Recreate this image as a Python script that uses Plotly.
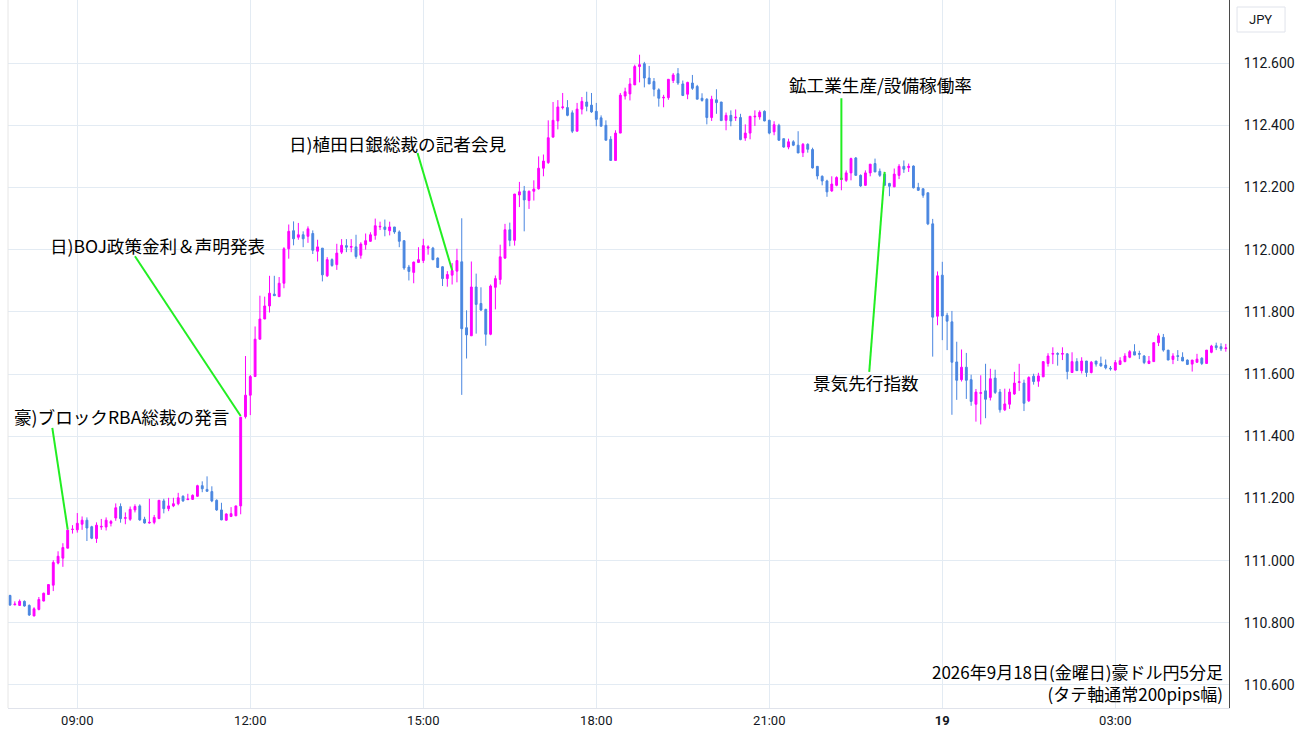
import pandas as pd
import plotly.graph_objects as go

# ---------------- data (AUD/JPY 5-minute candles, 2026-09-18 07:50 -> 09-19 05:00) ----------------
start_time = "2026-09-18 07:50"

opens = [
 110.888,110.858,110.856,110.869,110.856,110.822,110.843,110.870,110.891,110.921,
 110.992,111.008,111.040,111.100,111.099,111.117,111.130,111.109,111.071,111.108,
 111.108,111.120,111.137,111.174,111.136,111.133,111.163,111.176,111.133,111.121,
 111.123,111.135,111.192,111.167,111.176,111.183,111.207,111.196,111.197,111.207,
 111.241,111.229,111.222,111.194,111.163,111.130,111.142,111.144,111.176,111.463,
 111.532,111.592,111.712,111.777,111.819,111.857,111.849,111.892,112.003,112.061,
 112.040,112.048,112.043,112.052,111.995,112.005,111.916,111.968,111.952,111.992,
 112.013,112.008,112.009,111.982,112.016,112.027,112.046,112.073,112.073,112.061,
 112.073,112.057,112.029,111.944,111.927,111.959,111.965,112.005,112.005,111.973,
 111.945,111.907,111.918,111.931,111.961,111.749,111.723,111.880,111.827,111.808,
 111.728,111.879,111.904,111.973,112.064,112.030,112.176,112.189,112.158,112.188,
 112.196,112.262,112.280,112.362,112.414,112.457,112.457,112.440,112.381,112.452,
 112.475,112.465,112.445,112.424,112.400,112.355,112.287,112.375,112.494,112.501,
 112.530,112.589,112.598,112.552,112.541,112.514,112.488,112.489,112.544,112.566,
 112.533,112.500,112.536,112.525,112.487,112.484,112.425,112.482,112.475,112.416,
 112.432,112.424,112.425,112.359,112.375,112.427,112.427,112.445,112.416,112.379,
 112.400,112.357,112.330,112.347,112.336,112.312,112.339,112.322,112.268,112.236,
 112.221,112.189,112.207,112.226,112.223,112.247,112.295,112.239,112.207,112.247,
 112.277,112.252,112.243,112.213,112.202,112.239,112.268,112.264,112.269,112.200,
 112.196,112.183,112.083,111.786,111.918,111.789,111.768,111.639,111.582,111.622,
 111.582,111.503,111.538,111.546,111.525,111.587,111.542,111.485,111.503,111.536,
 111.573,111.571,111.514,111.593,111.577,111.591,111.634,111.664,111.666,111.664,
 111.665,111.605,111.640,111.611,111.642,111.605,111.642,111.634,111.629,111.619,
 111.613,111.631,111.640,111.654,111.672,111.666,111.658,111.634,111.640,111.701,
 111.718,111.677,111.647,111.659,111.654,111.645,111.632,111.638,111.651,111.634,
 111.670,111.691,111.688,111.682,111.683]

highs = [
 110.890,110.869,110.875,110.872,110.859,110.850,110.883,110.897,110.923,111.001,
 111.030,111.056,111.101,111.114,111.153,111.142,111.139,111.112,111.123,111.134,
 111.139,111.131,111.184,111.184,111.155,111.174,111.181,111.181,111.141,111.199,
 111.147,111.194,111.199,111.202,111.202,111.218,111.210,111.215,111.213,111.244,
 111.255,111.271,111.239,111.197,111.186,111.152,111.172,111.176,111.463,111.658,
 111.597,111.753,111.852,111.849,111.916,111.916,111.912,112.008,112.081,112.091,
 112.086,112.059,112.075,112.062,112.032,112.005,111.976,111.972,112.019,112.034,
 112.034,112.034,112.048,112.024,112.052,112.056,112.100,112.090,112.097,112.090,
 112.073,112.062,112.029,111.951,111.962,112.008,112.035,112.014,112.009,111.975,
 111.947,111.931,111.957,112.003,112.101,111.805,111.962,111.923,111.879,111.810,
 111.888,111.917,112.016,112.083,112.087,112.179,112.218,112.205,112.190,112.223,
 112.300,112.306,112.416,112.475,112.481,112.504,112.481,112.448,112.472,112.491,
 112.508,112.504,112.472,112.432,112.416,112.365,112.384,112.504,112.521,112.552,
 112.595,112.627,112.604,112.591,112.552,112.519,112.498,112.548,112.568,112.584,
 112.544,112.540,112.562,112.530,112.503,112.487,112.495,112.516,112.475,112.441,
 112.448,112.451,112.437,112.403,112.429,112.448,112.448,112.448,112.418,112.413,
 112.405,112.357,112.357,112.352,112.381,112.343,112.342,112.328,112.268,112.239,
 112.225,112.236,112.236,112.245,112.255,112.296,112.298,112.242,112.255,112.275,
 112.293,112.261,112.250,112.215,112.261,112.275,112.287,112.277,112.271,112.215,
 112.196,112.183,112.099,111.930,111.961,111.797,111.803,111.704,111.679,111.668,
 111.598,111.552,111.596,111.633,111.617,111.614,111.552,111.553,111.553,111.607,
 111.633,111.582,111.593,111.601,111.604,111.640,111.667,111.686,111.670,111.686,
 111.667,111.670,111.651,111.654,111.642,111.642,111.642,111.656,111.647,111.626,
 111.645,111.654,111.667,111.677,111.696,111.675,111.661,111.658,111.701,111.731,
 111.729,111.677,111.667,111.677,111.670,111.647,111.645,111.665,111.654,111.677,
 111.694,111.701,111.699,111.697,111.690]

lows = [
 110.855,110.856,110.854,110.852,110.822,110.821,110.840,110.869,110.890,110.902,
 110.988,110.980,111.040,111.087,111.090,111.099,111.063,111.069,111.057,111.099,
 111.097,111.110,111.128,111.122,111.117,111.128,111.155,111.128,111.119,111.119,
 111.117,111.135,111.152,111.159,111.172,111.178,111.189,111.195,111.195,111.205,
 111.220,111.222,111.188,111.160,111.130,111.128,111.140,111.144,111.149,111.457,
 111.468,111.592,111.712,111.777,111.798,111.852,111.849,111.876,111.971,112.014,
 112.032,112.008,112.022,111.986,111.962,111.898,111.912,111.945,111.935,111.986,
 111.992,111.992,111.971,111.971,112.000,112.025,112.032,112.063,112.043,112.046,
 112.051,112.008,111.935,111.901,111.892,111.957,111.957,111.984,111.966,111.941,
 111.883,111.881,111.888,111.895,111.533,111.650,111.723,111.730,111.803,111.691,
 111.725,111.808,111.888,111.970,112.011,112.013,112.137,112.059,112.131,112.158,
 112.193,112.236,112.276,112.360,112.387,112.451,112.429,112.375,112.381,112.435,
 112.445,112.440,112.397,112.397,112.352,112.287,112.287,112.375,112.483,112.480,
 112.530,112.538,112.522,112.533,112.493,112.460,112.458,112.482,112.536,112.530,
 112.494,112.484,112.514,112.484,112.476,112.403,112.414,112.437,112.415,112.384,
 112.397,112.414,112.352,112.350,112.355,112.398,112.418,112.413,112.371,112.368,
 112.350,112.328,112.323,112.333,112.311,112.298,112.312,112.261,112.226,112.207,
 112.170,112.186,112.204,112.191,112.218,112.223,112.239,112.202,112.205,112.236,
 112.250,112.234,112.207,112.172,112.202,112.227,112.247,112.250,112.197,112.189,
 112.167,112.079,111.656,111.757,111.709,111.677,111.469,111.517,111.576,111.520,
 111.498,111.447,111.438,111.458,111.515,111.536,111.476,111.481,111.488,111.533,
 111.546,111.481,111.510,111.566,111.559,111.591,111.624,111.632,111.627,111.645,
 111.583,111.605,111.610,111.602,111.591,111.602,111.624,111.624,111.615,111.611,
 111.611,111.629,111.638,111.651,111.661,111.648,111.632,111.632,111.640,111.690,
 111.672,111.645,111.632,111.642,111.642,111.629,111.608,111.636,111.629,111.634,
 111.667,111.677,111.674,111.672,111.680]

closes = [
 110.857,110.860,110.869,110.854,110.825,110.845,110.875,110.895,110.923,110.994,
 111.014,111.042,111.098,111.101,111.120,111.130,111.105,111.072,111.114,111.110,
 111.130,111.126,111.170,111.135,111.138,111.165,111.174,111.131,111.121,111.123,
 111.139,111.194,111.167,111.176,111.183,111.202,111.192,111.198,111.210,111.241,
 111.231,111.223,111.192,111.163,111.131,111.150,111.151,111.176,111.461,111.532,
 111.592,111.712,111.777,111.819,111.860,111.852,111.892,112.003,112.059,112.035,
 112.048,112.035,112.067,111.998,112.009,111.919,111.968,111.949,111.989,112.014,
 112.008,112.010,111.978,112.018,112.029,112.048,112.077,112.075,112.065,112.073,
 112.057,112.027,111.941,111.930,111.960,111.968,112.013,112.009,111.968,111.943,
 111.907,111.920,111.933,111.965,111.746,111.726,111.880,111.824,111.806,111.728,
 111.883,111.907,111.977,112.064,112.030,112.179,112.186,112.160,112.188,112.195,
 112.262,112.285,112.360,112.416,112.459,112.459,112.432,112.381,112.452,112.477,
 112.461,112.443,112.419,112.397,112.352,112.287,112.375,112.497,112.508,112.533,
 112.589,112.595,112.552,112.533,112.516,112.487,112.490,112.548,112.562,112.536,
 112.496,112.538,112.519,112.484,112.480,112.425,112.484,112.473,112.415,112.432,
 112.414,112.426,112.354,112.375,112.429,112.429,112.442,112.414,112.375,112.402,
 112.352,112.330,112.347,112.336,112.311,112.339,112.323,112.263,112.237,112.221,
 112.186,112.211,112.232,112.230,112.247,112.293,112.239,112.205,112.247,112.275,
 112.250,112.239,112.207,112.204,112.243,112.268,112.259,112.268,112.199,112.191,
 112.175,112.083,111.783,111.916,111.787,111.770,111.638,111.580,111.622,111.580,
 111.512,111.542,111.540,111.519,111.585,111.541,111.485,111.504,111.542,111.571,
 111.575,111.506,111.589,111.576,111.594,111.640,111.658,111.666,111.664,111.666,
 111.608,111.640,111.611,111.642,111.605,111.638,111.632,111.626,111.620,111.617,
 111.637,111.643,111.658,111.672,111.661,111.664,111.637,111.642,111.701,111.723,
 111.677,111.645,111.658,111.657,111.642,111.631,111.645,111.648,111.634,111.677,
 111.690,111.685,111.681,111.684,111.688]

# axis ticks
x_tick_vals = ["2026-09-18 09:00", "2026-09-18 12:00", "2026-09-18 15:00", "2026-09-18 18:00",
               "2026-09-18 21:00", "2026-09-19 00:00", "2026-09-19 03:00"]
x_tick_text = ["09:00", "12:00", "15:00", "18:00", "21:00", "<b>19</b>", "03:00"]
y_tick_vals = [110.6, 110.8, 111.0, 111.2, 111.4, 111.6, 111.8, 112.0, 112.2, 112.4, 112.6]
x_range = ["2026-09-18 07:47:54", "2026-09-19 04:58:18"]
y_range = [110.526, 112.803]

# event annotations
event_labels = ["豪)ブロックRBA総裁の発言", "日)BOJ政策金利＆声明発表", "日)植田日銀総裁の記者会見",
                "鉱工業生産/設備稼働率", "景気先行指数"]
label_times = ["2026-09-18 07:52", "2026-09-18 08:29", "2026-09-18 12:38",
               "2026-09-18 21:18", "2026-09-18 21:43"]
label_prices = [111.462, 112.012, 112.343, 112.532, 111.574]
line_start_times = ["2026-09-18 08:34", "2026-09-18 10:00", "2026-09-18 14:54",
                    "2026-09-18 22:15", "2026-09-18 22:44"]
line_start_prices = [111.427, 111.979, 112.311, 112.487, 111.607]
line_end_times = ["2026-09-18 08:50", "2026-09-18 11:50", "2026-09-18 15:30",
                  "2026-09-18 22:15", "2026-09-18 23:00"]
line_end_prices = [111.100, 111.465, 111.934, 112.224, 112.250]

caption_lines = ["2026年9月18日(金曜日)豪ドル円5分足", "(タテ軸通常200pips幅)"]
currency_label = "JPY"

# ---------------- styling ----------------
UP = "#ff00ff"
DOWN = "#4a86e0"
GRID = "#e3ebf3"
LINE_GREEN = "#22ee22"
FONT_JP = "Noto Sans CJK JP"

times = pd.date_range(start=start_time, periods=len(opens), freq="5min")

fig = go.Figure()
fig.add_trace(go.Candlestick(
    x=times, open=opens, high=highs, low=lows, close=closes,
    increasing=dict(line=dict(color=UP, width=1), fillcolor=UP),
    decreasing=dict(line=dict(color=DOWN, width=1), fillcolor=DOWN),
    whiskerwidth=0, hoverinfo="skip", showlegend=False,
))

shapes = []
for t0, p0, t1, p1 in zip(line_start_times, line_start_prices, line_end_times, line_end_prices):
    shapes.append(dict(type="line", xref="x", yref="y", x0=t0, y0=p0, x1=t1, y1=p1,
                       line=dict(color=LINE_GREEN, width=2)))
# left border of plot area
shapes.append(dict(type="line", xref="paper", yref="paper", x0=0, x1=0, y0=0, y1=1,
                   line=dict(color="#e6e6e6", width=1)))
# currency box in the price-scale area
shapes.append(dict(type="rect", xref="paper", yref="paper", x0=1.0066, x1=1.0459,
                   y0=0.9548, y1=0.9901, line=dict(color="#e0e3eb", width=1),
                   fillcolor="#ffffff", layer="above"))

annotations = []
for txt, t, p in zip(event_labels, label_times, label_prices):
    annotations.append(dict(x=t, y=p, xref="x", yref="y", text=txt, showarrow=False,
                            xanchor="left", yanchor="middle",
                            font=dict(family=FONT_JP, size=17.6, color="#000000")))
annotations.append(dict(x=0.9967, y=0.036, xref="paper", yref="paper",
                        text="<br>".join(caption_lines), align="right",
                        showarrow=False, xanchor="right", yanchor="middle",
                        font=dict(family=FONT_JP, size=17, color="#000000")))
annotations.append(dict(x=1.0262, y=0.9725, xref="paper", yref="paper", text=currency_label,
                        showarrow=False, xanchor="center", yanchor="middle",
                        font=dict(family="Roboto", size=13, color="#131722")))

fig.update_layout(
    width=1300, height=745,
    margin=dict(l=8, r=71, t=0, b=37),
    paper_bgcolor="#ffffff", plot_bgcolor="#ffffff",
    showlegend=False, boxgap=0.45,
    shapes=shapes, annotations=annotations,
    xaxis=dict(type="date", range=x_range, tickvals=x_tick_vals, ticktext=x_tick_text,
               showgrid=True, gridcolor=GRID, gridwidth=1, zeroline=False,
               showline=True, linecolor="#e0e3eb", linewidth=1, ticks="",
               tickfont=dict(family="Roboto", size=13, color="#131722"),
               rangeslider=dict(visible=False), fixedrange=True),
    yaxis=dict(side="right", range=y_range, tickvals=y_tick_vals, tickformat=".3f",
               showgrid=True, gridcolor=GRID, gridwidth=1, zeroline=False,
               showline=True, linecolor="#4a4a4a", linewidth=1, ticks="",
               ticklabelstandoff=11,
               tickfont=dict(family="Roboto", size=14, color="#131722"), fixedrange=True),
)

fig.write_html("out.html", config={"displayModeBar": False},
               post_script="document.body.style.margin='0';")
